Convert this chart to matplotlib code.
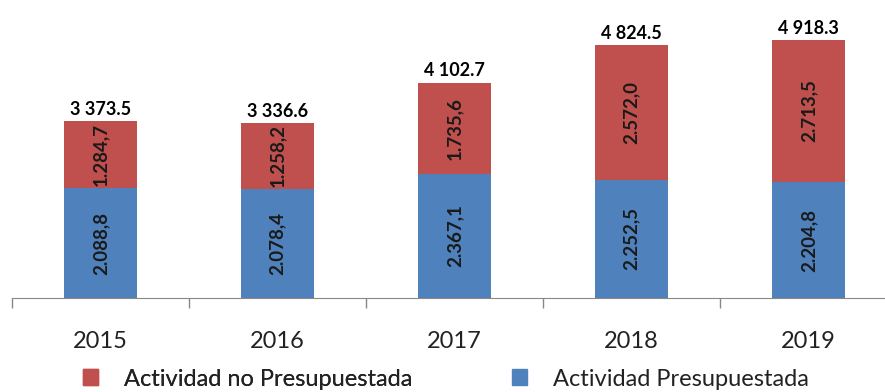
import matplotlib
matplotlib.use("Agg")
import matplotlib.pyplot as plt
from matplotlib.patches import Patch
import numpy as np

years = ["2015", "2016", "2017", "2018", "2019"]
presupuestada = [2088.8, 2078.4, 2367.1, 2252.5, 2204.8]
no_presupuestada = [1284.7, 1258.2, 1735.6, 2572.0, 2713.5]

RED = "#C0504D"
BLUE = "#4F81BD"
FONT = "Lato"


def fmt_inner(v):
    # thousands with '.', decimals with ','
    s = f"{v:,.1f}"
    return s.replace(",", "X").replace(".", ",").replace("X", ".")


def fmt_total(v):
    return f"{v:,.1f}".replace(",", " ")


fig = plt.figure(figsize=(8.85, 3.92), dpi=100)
ax = fig.add_axes([12 / 885, 94 / 392, 885 / 885, 298 / 392])

x = np.arange(len(years))
w = 0.41
pres = np.array(presupuestada)
nopres = np.array(no_presupuestada)
totals = pres + nopres

ax.bar(x, pres, w, color=BLUE, zorder=2)
ax.bar(x, nopres, w, bottom=pres, color=RED, zorder=2)

for xi, p, n, t in zip(x, pres, nopres, totals):
    ax.text(xi, p / 2, fmt_inner(p), rotation=90, ha="center", va="center",
            fontsize=13.5, fontweight="bold", color="#1a1a1a", family=FONT)
    ax.text(xi, p + n / 2, fmt_inner(n), rotation=90, ha="center", va="center",
            fontsize=13.5, fontweight="bold", color="#1a1a1a", family=FONT)
    ax.text(xi, t + 60, fmt_total(t), ha="center", va="bottom",
            fontsize=13, fontweight="bold", color="black", family=FONT)

ax.set_xlim(-0.5, 4.5)
ax.set_ylim(0, 298 / 0.0525)

for s in ["top", "right", "left"]:
    ax.spines[s].set_visible(False)
ax.spines["bottom"].set_color("#888888")
ax.yaxis.set_visible(False)

ax.set_xticks(x)
ax.set_xticklabels(years, fontsize=17, family=FONT, color="#222222")
ax.tick_params(axis="x", which="major", length=0, pad=24)
ax.set_xticks(np.arange(-0.5, 5.0, 1.0), minor=True)
ax.tick_params(axis="x", which="minor", length=7, color="#888888", width=1)

legend_kw = dict(loc="center left", frameon=False, borderpad=0, borderaxespad=0,
                 prop={"family": FONT, "size": 17}, handlelength=0.65,
                 handleheight=0.65, handletextpad=1.1, labelcolor="#222222")
leg1 = fig.legend([Patch(color=RED)], ["Actividad no Presupuestada"],
                  bbox_to_anchor=(83 / 885, 13 / 392), **legend_kw)
fig.add_artist(leg1)
fig.legend([Patch(color=BLUE)], ["Actividad Presupuestada"],
           bbox_to_anchor=(512 / 885, 13 / 392), **legend_kw)

fig.savefig("out.png", dpi=100)
